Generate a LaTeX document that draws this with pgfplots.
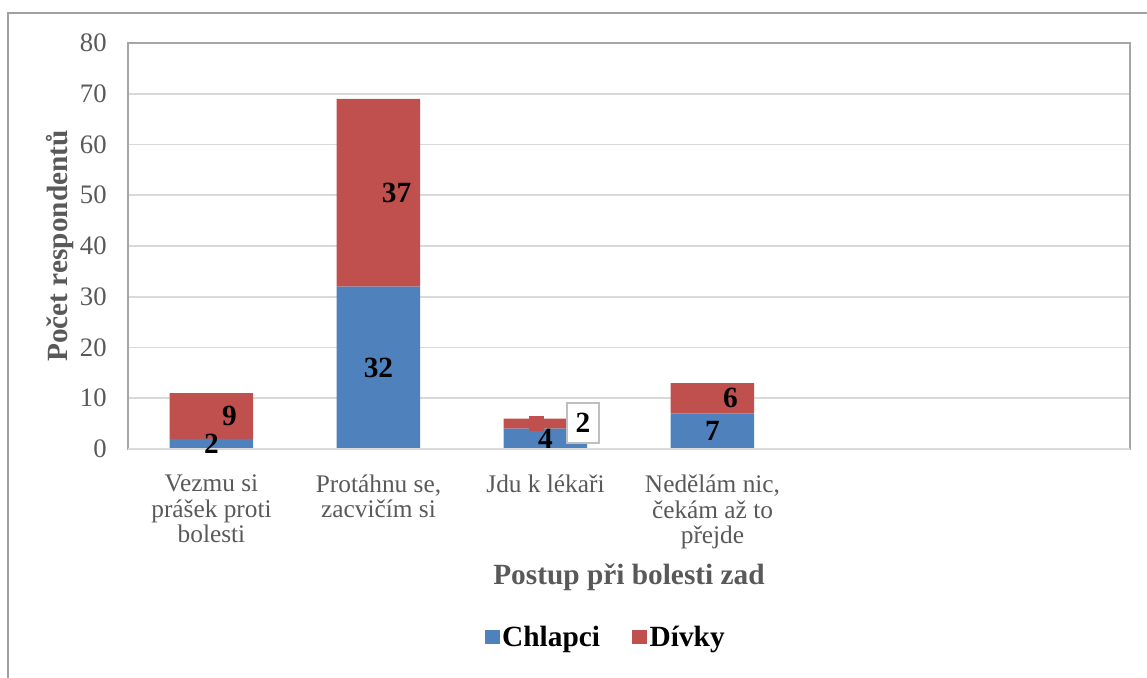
\documentclass[border=0pt]{standalone}
\usepackage{fontspec}
\setmainfont{Liberation Serif}
\usepackage{pgfplots}
\pgfplotsset{compat=1.18}
\definecolor{cblue}{HTML}{4F81BD}
\definecolor{cred}{HTML}{C0504D}
\definecolor{txtgray}{HTML}{595959}
\definecolor{gridgray}{HTML}{D9D9D9}
\definecolor{framegray}{HTML}{A6A6A6}
\definecolor{outergray}{HTML}{A0A0A0}
\tikzset{dlab/.style={font=\bfseries\fontsize{22}{24}\selectfont, text=black}}
\begin{document}
\begin{tikzpicture}
\useasboundingbox (-96pt,-171.75pt) rectangle (764.25pt,336.75pt);
\draw[outergray, line width=1pt] (-90pt,-220pt) -- (-90pt,327pt) -- (900pt,327pt);
\begin{axis}[
  at={(0pt,0pt)}, anchor=south west,
  scale only axis, width=751.5pt, height=304.5pt,
  xmin=-0.5, xmax=5.5, ymin=0, ymax=80,
  ybar stacked, bar width=0.5,
  xtick={0,1,2,3},
  xticklabels={{Vezmu si\\prášek proti\\bolesti},{Protáhnu se,\\zacvičím si},{Jdu k lékaři},{Nedělám nic,\\čekám až to\\přejde}},
  ytick={0,10,...,80},
  ymajorgrids, grid style={gridgray, line width=1.2pt},
  axis line style={framegray, line width=1.5pt},
  major tick length=0pt,
  /pgf/number format/assume math mode=true,
  yticklabel style={font=\fontsize{20}{21}\selectfont, text=txtgray, xshift=-12.5pt},
  xticklabel style={font=\fontsize{19}{19}\selectfont, text=txtgray, align=center, yshift=-16pt},
  ylabel={Počet respondentů},
  ylabel style={font=\bfseries\fontsize{22}{24}\selectfont, text=txtgray, at={(axis description cs:-0.0679,0.5)}, anchor=center},
  xlabel={Postup při bolesti zad},
  xlabel style={font=\bfseries\fontsize{22}{24}\selectfont, text=txtgray, at={(rel axis cs:0.5,0)}, anchor=center, yshift=-96pt},
  legend image code/.code={\fill[#1] (-3pt,-5.6pt) rectangle (8.25pt,5.6pt);},
  legend style={at={(rel axis cs:0.477,-0.463)}, anchor=center, draw=none, fill=none,
    legend columns=2, font=\bfseries\fontsize{22}{24}\selectfont,
    /tikz/every even column/.append style={column sep=22pt}},
]
\addplot[fill=cblue, draw=none] coordinates {(0,2) (1,32) (2,4) (3,7)};
\addplot[fill=cred, draw=none] coordinates {(0,9) (1,37) (2,2) (3,6)};
\legend{Chlapci, Dívky}
\coordinate (bl) at (rel axis cs:0,0);
\coordinate (br) at (rel axis cs:1,0);
\coordinate (sqa) at (axis cs:1.901,3.6);
\coordinate (sqb) at (axis cs:1.991,6.56);
\coordinate (l1) at (axis cs:0,1);
\coordinate (l2) at (axis cs:0.108,6.5);
\coordinate (l3) at (axis cs:1,16);
\coordinate (l4) at (axis cs:1.108,50.5);
\coordinate (l5) at (axis cs:2,2);
\coordinate (l6) at (axis cs:2.225,5.12);
\coordinate (l7) at (axis cs:3,3.5);
\coordinate (l8) at (axis cs:3.108,10);
\end{axis}
\draw[gridgray, line width=1.5pt] (bl) -- (br);
\fill[cred] (sqa) rectangle (sqb);
\node[dlab] at (l1) {2};
\node[dlab] at (l2) {9};
\node[dlab] at (l3) {32};
\node[dlab] at (l4) {37};
\node[dlab] at (l5) {4};
\node[dlab, draw=gray!50, fill=white, line width=1.2pt, minimum width=24pt, minimum height=30pt, inner sep=0pt] at (l6) {2};
\node[dlab] at (l7) {7};
\node[dlab] at (l8) {6};
\end{tikzpicture}
\end{document}
